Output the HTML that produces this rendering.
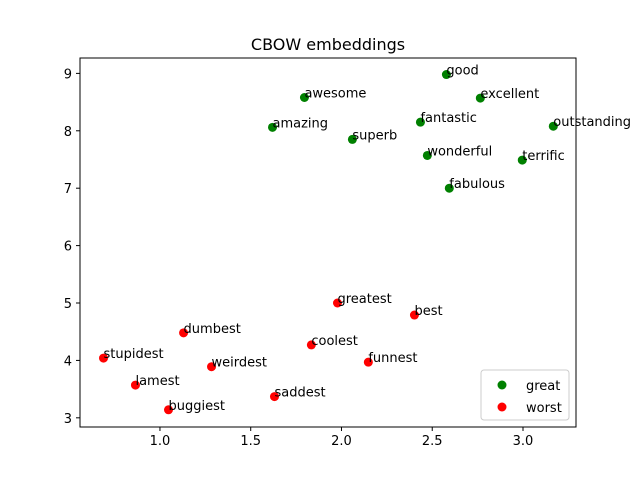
<!DOCTYPE html>
<html><head><meta charset="utf-8"><style>
body{margin:0;background:#fff}
svg{display:block;font-family:"DejaVu Sans","Liberation Sans",sans-serif}
</style></head><body>
<svg id="chart" width="640" height="480">
<rect width="640" height="480" fill="#fff"/>
<text x="328" y="50" text-anchor="middle" font-size="16">CBOW embeddings</text>
<g id="marks"></g>
<rect x="80" y="58" width="496" height="369" fill="none" stroke="#000" stroke-width="1"/>
<g id="ticks"></g>
<g>
<rect x="481" y="370" width="88" height="50" rx="3" fill="#fff" fill-opacity="0.8" stroke="#ccc"/>
<circle cx="502" cy="385" r="4.5" fill="#008000"/>
<text x="526" y="390" font-size="13">great</text>
<circle cx="502" cy="407" r="4.5" fill="#ff0000"/>
<text x="526" y="412" font-size="13">worst</text>
</g>
</svg>
<script>
const greatWords=["good","excellent","awesome","amazing","fantastic","superb","outstanding","wonderful","terrific","fabulous"];
const greatX=[2.578,2.765,1.796,1.62,2.435,2.06,3.167,2.473,2.996,2.594];
const greatY=[8.98,8.57,8.58,8.06,8.15,7.85,8.08,7.57,7.49,7.0];
const worstWords=["greatest","best","dumbest","coolest","stupidest","weirdest","funnest","lamest","saddest","buggiest"];
const worstX=[1.978,2.402,1.13,1.834,0.689,1.284,2.148,0.865,1.631,1.047];
const worstY=[5.0,4.79,4.48,4.27,4.04,3.89,3.97,3.57,3.37,3.14];
const xTicks=[1.0,1.5,2.0,2.5,3.0];
const yTicks=[3,4,5,6,7,8,9];
const NS="http://www.w3.org/2000/svg";
const X0=80,X1=576,Y0=58,Y1=427,xmin=0.5595,xmax=3.292,ymin=2.84,ymax=9.268;
function sx(v){return X0+(v-xmin)/(xmax-xmin)*(X1-X0);}
function sy(v){return Y1-(v-ymin)/(ymax-ymin)*(Y1-Y0);}
const marks=document.getElementById('marks'),ticks=document.getElementById('ticks');
function mk(t,a,p){const e=document.createElementNS(NS,t);for(const k in a)e.setAttribute(k,a[k]);p.appendChild(e);return e;}
function series(words,xs,ys,col,nm){
 for(let i=0;i<words.length;i++){
  const c=mk('circle',{cx:sx(xs[i]),cy:sy(ys[i]),r:4.5,fill:col},marks);
  
  
  const t=mk('text',{x:sx(xs[i]),y:sy(ys[i]),'font-size':13},marks);
  t.textContent=words[i];
  
  
 }
}
series(greatWords,greatX,greatY,'#008000','great');
series(worstWords,worstX,worstY,'#ff0000','worst');
xTicks.forEach(v=>{
 const x=sx(v);
 const l=mk('line',{x1:x,x2:x,y1:Y1,y2:Y1+4,stroke:'#000'},ticks);
 
 
 const t=mk('text',{x:x,y:Y1+18,'font-size':13,'text-anchor':'middle'},ticks);
 t.textContent=v.toFixed(1);
 
 
});
yTicks.forEach(v=>{
 const y=sy(v);
 const l=mk('line',{x1:X0-4,x2:X0,y1:y,y2:y,stroke:'#000'},ticks);
 
 
 const t=mk('text',{x:X0-8,y:y+5,'font-size':13,'text-anchor':'end'},ticks);
 t.textContent=v;
 
 
});
</script>
</body></html>
